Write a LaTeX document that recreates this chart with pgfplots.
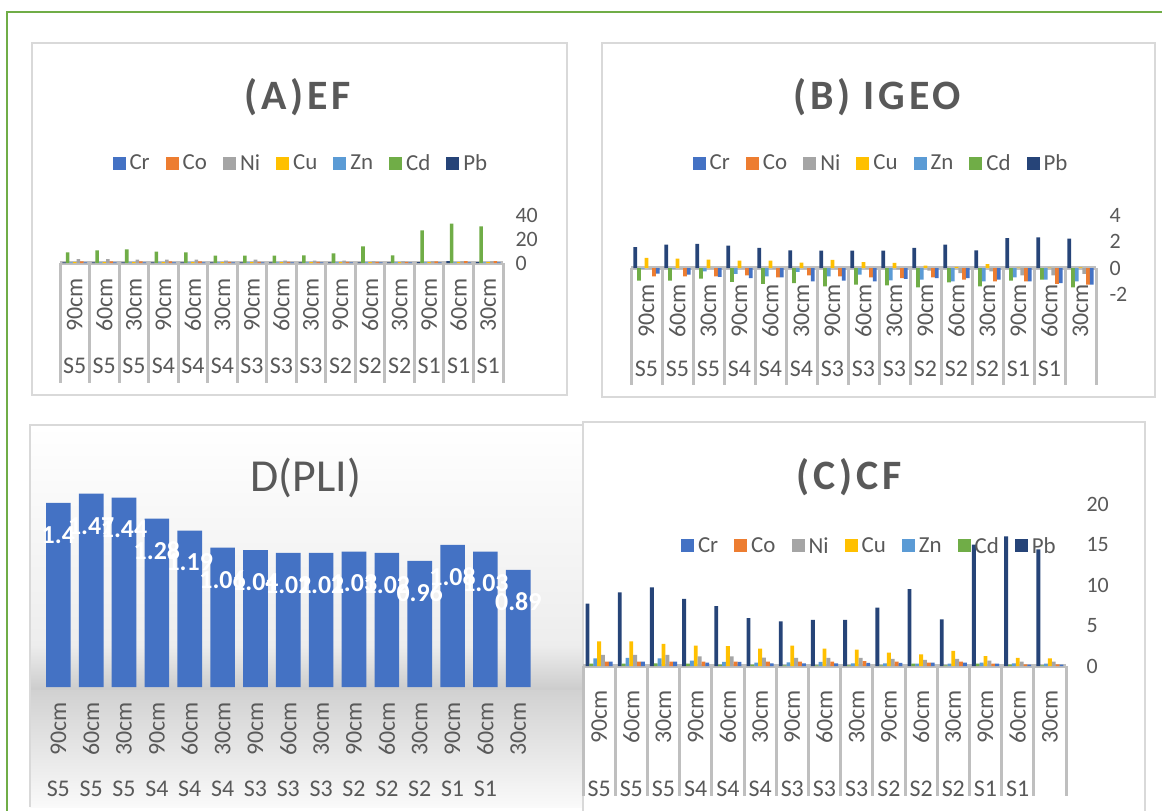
\documentclass[border=0pt]{standalone}
\usepackage{fontspec}
\setmainfont{Carlito}
\newfontfamily\titlefont[LetterSpace=9]{Carlito}
\usepackage{pgfplots}
\usepackage{pgfplotstable}
\pgfplotsset{compat=1.18}
\usetikzlibrary{shadings}
\definecolor{cCr}{HTML}{4472C4}
\definecolor{cCo}{HTML}{ED7D31}
\definecolor{cNi}{HTML}{A5A5A5}
\definecolor{cCu}{HTML}{FFC000}
\definecolor{cZn}{HTML}{5B9BD5}
\definecolor{cCd}{HTML}{70AD47}
\definecolor{cPb}{HTML}{264478}
\definecolor{txt}{HTML}{595959}
\definecolor{gridc}{HTML}{BFBFBF}
\definecolor{brd}{HTML}{D9D9D9}
\definecolor{framec}{HTML}{70AD47}

% (A) EF
\pgfplotstableread{
x Pb Cd Zn Cu Ni Co Cr
0 0.6 8.9 0.6 0.8 3.3 1.4 0.6
1 0.6 10.5 0.6 0.8 3.3 1.4 0.6
2 0.6 11.4 0.6 0.8 2.8 1.4 0.6
3 0.6 9.4 0.6 0.8 2.8 1.4 0.6
4 0.6 8.9 0.6 0.8 2.8 1.4 0.6
5 0.6 6.1 0.6 0.8 1.9 1.0 0.6
6 0.6 6.1 0.6 0.8 2.8 1.0 0.6
7 0.6 6.1 0.6 0.8 1.9 1.0 0.6
8 0.6 6.4 0.6 0.8 1.9 1.0 0.6
9 0.6 8.0 0.6 0.8 1.9 1.0 0.6
10 0.6 13.9 0.6 0.8 1.4 1.0 0.6
11 0.6 6.4 0.6 0.8 1.4 1.0 0.6
12 0.8 27.2 0.6 0.8 1.4 1.4 0.6
13 1.5 32.8 0.6 0.8 1.4 1.6 0.6
14 0.8 30.6 0.6 0.8 1.4 1.6 0.6
}\EF

% (B) Igeo
\pgfplotstableread{
x Pb Cd Zn Cu Ni Co Cr
0 1.59 -0.96 -0.05 0.76 -0.03 -0.63 -0.43
1 1.77 -0.96 -0.05 0.71 -0.03 -0.63 -0.50
2 1.82 -0.81 -0.25 0.63 -0.03 -0.63 -0.68
3 1.69 -1.06 -0.45 0.56 -0.03 -0.56 -0.76
4 1.52 -1.21 -0.63 0.56 -0.05 -0.71 -0.71
5 1.34 -1.14 -0.30 0.40 -0.03 -0.56 -1.01
6 1.31 -1.39 -0.63 0.61 -0.03 -0.63 -0.96
7 1.31 -1.26 -0.50 0.45 -0.05 -0.71 -1.01
8 1.31 -1.31 -0.93 0.38 -0.10 -0.76 -0.83
9 1.52 -1.46 -0.88 0.18 -0.20 -0.71 -0.76
10 1.77 -1.09 -1.01 0.08 -0.38 -0.88 -0.76
11 1.34 -1.39 -1.01 0.30 -0.25 -1.01 -0.88
12 2.27 -0.96 -0.71 0.02 -0.56 -1.01 -1.01
13 2.32 -0.88 -0.88 0.02 -0.56 -1.21 -1.14
14 2.22 -1.46 -1.01 0.05 -0.45 -1.26 -1.26
}\IG

% (C) CF
\pgfplotstableread{
x Pb Cd Zn Cu Ni Co Cr
0 7.7 0.30 0.93 3.04 1.39 0.55 0.55
1 9.1 0.30 1.00 3.04 1.39 0.55 0.55
2 9.7 0.34 0.93 2.74 1.39 0.55 0.55
3 8.3 0.30 0.68 2.53 1.18 0.55 0.42
4 7.4 0.17 0.50 2.45 1.18 0.55 0.50
5 5.9 0.17 0.42 2.15 1.05 0.55 0.34
6 5.5 0.08 0.46 2.53 1.00 0.55 0.34
7 5.7 0.08 0.50 2.15 1.00 0.55 0.34
8 5.7 0.08 0.34 2.03 1.00 0.60 0.38
9 7.2 0.08 0.34 1.65 0.89 0.55 0.38
10 9.5 0.30 0.30 1.43 0.76 0.42 0.42
11 5.75 0.08 0.30 1.86 0.89 0.55 0.42
12 15.0 0.30 0.42 1.22 0.68 0.30 0.30
13 16.0 0.17 0.34 1.00 0.55 0.21 0.17
14 14.4 0.08 0.30 0.93 0.55 0.21 0.17
}\CF

% (D) PLI
\pgfplotstableread{
x PLI
0 1.40
1 1.47
2 1.44
3 1.28
4 1.19
5 1.06
6 1.04
7 1.02
8 1.02
9 1.03
10 1.02
11 0.96
12 1.08
13 1.03
14 0.89
}\PLI

\pgfplotsset{
  sq/.style={legend image code/.code={\fill[##1,/tikz/.cd] (0bp,-6.5bp) rectangle (13bp,6.5bp);}},
  cat/.style={
    scale only axis, clip=false,
    xmin=-0.5, xmax=14.5,
    axis line style={draw=none}, major tick length=0pt, tick style={draw=none},
    xtick={0,...,14}, extra x ticks={0,...,14},
    extra x tick labels={90cm,60cm,30cm,90cm,60cm,30cm,90cm,60cm,30cm,90cm,60cm,30cm,90cm,60cm,30cm},
    tick label style={font=\fontsize{24}{28}\selectfont, text=txt},
    yticklabel style={font=\fontsize{22}{26}\selectfont},
    yticklabel pos=right,
    /pgf/number format/assume math mode=true,
  },
  grp/.style={ybar=0pt, bar width=0.12, legend columns=-1, reverse legend,
    legend style={draw=none, fill=none, anchor=center, font=\fontsize{23}{27}\selectfont, text=txt,
      nodes={inner xsep=4bp}, /tikz/every even column/.append style={column sep=12bp}}},
}
\newcommand\series[1]{%
  \addplot[fill=cPb, draw=none, sq] table[x=x,y=Pb]{#1}; \addlegendentry{Pb}
  \addplot[fill=cCd, draw=none, sq] table[x=x,y=Cd]{#1}; \addlegendentry{Cd}
  \addplot[fill=cZn, draw=none, sq] table[x=x,y=Zn]{#1}; \addlegendentry{Zn}
  \addplot[fill=cCu, draw=none, sq] table[x=x,y=Cu]{#1}; \addlegendentry{Cu}
  \addplot[fill=cNi, draw=none, sq] table[x=x,y=Ni]{#1}; \addlegendentry{Ni}
  \addplot[fill=cCo, draw=none, sq] table[x=x,y=Co]{#1}; \addlegendentry{Co}
  \addplot[fill=cCr, draw=none, sq] table[x=x,y=Cr]{#1}; \addlegendentry{Cr}
}
\newcommand\cells[1]{%
  \pgfplotsinvokeforeach{-0.5,0.5,...,14.5}{\draw[gridc, line width=3bp] (axis cs:##1,0) -- ++(0bp,-#1bp);}
  \draw[gridc, line width=3.5bp] (axis cs:-0.5,0) -- (axis cs:14.5,0);
}

\begin{document}
\begin{tikzpicture}
\useasboundingbox (0bp,0bp) rectangle (1162bp,-811bp);
\fill[white] (0bp,0bp) rectangle (1162bp,-811bp);
% outer frame
\draw[framec, line width=2.5bp] (7bp,-815bp) -- (7bp,-12bp) -- (1170bp,-12bp);
% panel boxes
\draw[brd, fill=white, line width=1.2bp] (32bp,-43bp) rectangle (567bp,-395bp);
\draw[brd, fill=white, line width=1.2bp] (602bp,-43bp) rectangle (1155bp,-397bp);
% D background
\shade[top color=white, bottom color=black!7] (30bp,-425bp) rectangle (583bp,-645bp);
\shade[top color=black!7, bottom color=black!20] (30bp,-645bp) rectangle (583bp,-690bp);
\shade[top color=black!18, bottom color=black!2] (30bp,-690bp) rectangle (583bp,-807bp);
\draw[brd, line width=1.2bp] (30bp,-807bp) -- (30bp,-425bp) -- (583bp,-425bp);
% C box
\draw[brd, fill=white, line width=1.2bp] (583bp,-422bp) rectangle (1145bp,-820bp);

% titles
\node[text=txt, font=\titlefont\bfseries\fontsize{42}{48}\selectfont] at (298bp,-97bp) {(A)EF};
\node[text=txt, font=\titlefont\bfseries\fontsize{42}{48}\selectfont] at (877bp,-97bp) {(B) IGEO};
\node[text=txt, font=\titlefont\bfseries\fontsize{42}{48}\selectfont] at (849bp,-477bp) {(C)CF};
\node[text=txt, font=\fontsize{46}{52}\selectfont] at (306bp,-478bp) {D(PLI)};

% (A) EF
\begin{axis}[cat, grp, at={(60bp,-263bp)}, anchor=south west, width=443bp, height=48bp,
  ymin=0, ymax=40, ytick={0,20,40}, yticklabel style={xshift=9bp},
  xticklabels={S5,S5,S5,S4,S4,S4,S3,S3,S3,S2,S2,S2,S1,S1,S1},
  xticklabel style={anchor=center, yshift=-103bp},
  extra x tick style={xticklabel style={yshift=61bp, rotate=90}},
  legend style={at={(0.546,2.083)}}]
\cells{120}
\series{\EF}
\end{axis}

% (B) IGEO
\begin{axis}[cat, grp, at={(631bp,-294.4bp)}, anchor=south west, width=465bp, height=79.2bp,
  ymin=-2, ymax=4, ytick={-2,0,2,4}, yticklabel style={xshift=10bp},
  xticklabels={S5,S5,S5,S4,S4,S4,S3,S3,S3,S2,S2,S2,S1,S1,{}},
  xticklabel style={anchor=center, yshift=-74.6bp},
  extra x tick style={xticklabel style={yshift=58bp, rotate=90}},
  legend style={at={(0.54,1.659)}}]
\cells{117}
\series{\IG}
\end{axis}

% (C) CF
\begin{axis}[cat, grp, at={(583bp,-666bp)}, anchor=south west, width=483bp, height=162bp,
  ymin=0, ymax=20, ytick={0,5,10,15,20}, yticklabel style={xshift=17bp},
  xticklabels={S5,S5,S5,S4,S4,S4,S3,S3,S3,S2,S2,S2,S1,S1,{}},
  xticklabel style={anchor=center, yshift=-123bp},
  extra x tick style={xticklabel style={yshift=72bp, rotate=90}},
  legend style={at={(0.595,0.741)}}]
\cells{130}
\series{\CF}
\end{axis}

% (D) PLI
\begin{axis}[cat, at={(41.9bp,-687bp)}, anchor=south west, width=492.8bp, height=210.4bp,
  ymin=0, ymax=1.6, ytick=\empty,
  xticklabels={S5,S5,S5,S4,S4,S4,S3,S3,S3,S2,S2,S2,S1,S1,{}},
  xticklabel style={anchor=center, yshift=-102bp},
  extra x tick style={xticklabel style={yshift=60bp, rotate=90}},
  ybar=0pt, bar width=0.75,
  nodes near coords,
  nodes near coords style={anchor=center, yshift=-32bp, text=white, font=\bfseries\fontsize{26}{30}\selectfont}]
\addplot[fill=cCr, draw=none] table[x=x,y=PLI]{\PLI};
\end{axis}
\end{tikzpicture}
\end{document}
